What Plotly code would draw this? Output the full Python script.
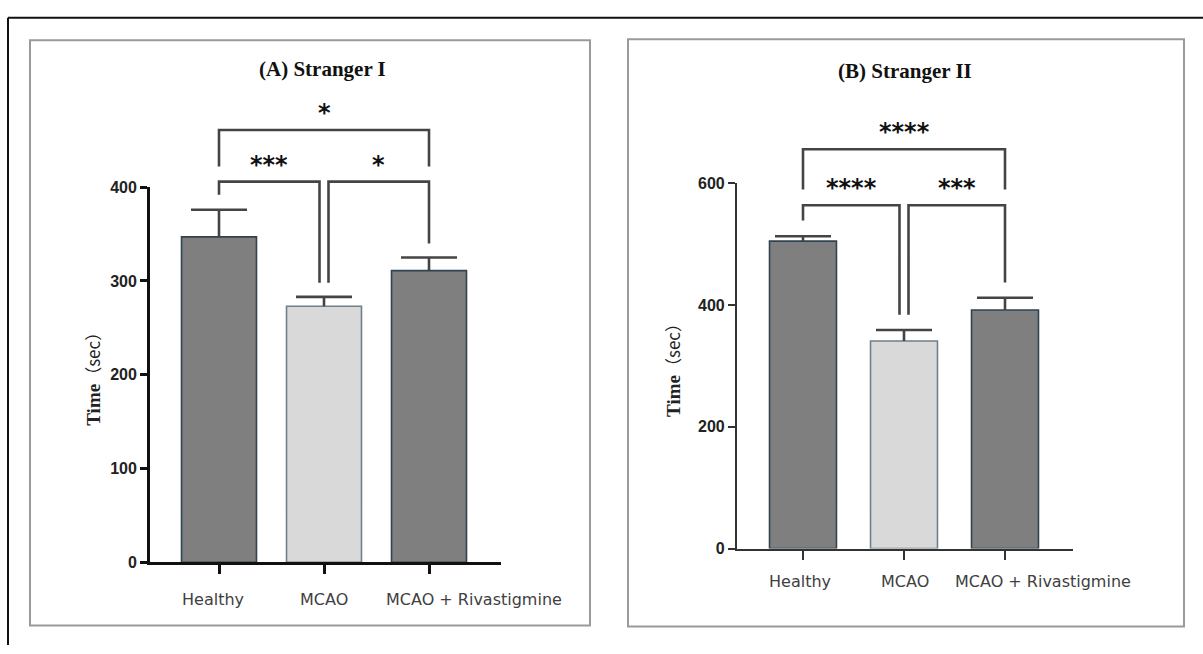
import plotly.graph_objects as go

W, H = 1203, 654

# ---- data -------------------------------------------------------------
groups = ["Healthy", "MCAO", "MCAO + Rivastigmine"]

# (A) Stranger I: mean time and SEM (sec)
mean_a = [347, 273, 311]
sem_a = [29, 10, 14]

# (B) Stranger II: mean time and SEM (sec)
mean_b = [505, 341, 392]
sem_b = [8, 18, 20]

# pairwise comparisons drawn as brackets
pairs = [(0, 1), (1, 2), (0, 2)]
bracket_a = [406, 406, 461]
legs_a = [(392, 298), (298, 340), (422, 422)]
stars_a = ["***", "*", "*"]

bracket_b = [564, 564, 656]
legs_b = [(539, 384), (384, 437), (590, 590)]
stars_b = ["****", "***", "****"]

y_ticks_a = [0, 100, 200, 300, 400]
y_ticks_b = [0, 200, 400, 600]

titles = ["(A) Stranger I", "(B) Stranger II"]

# ---- styling ----------------------------------------------------------
fills = ["#7f7f7f", "#d9d9d9", "#7f7f7f"]
edges = ["#2f4350", "#6f808c", "#2f4350"]
BRACKET = "#444444"
LABEL_GREY = "#404040"


def fx(p):
    return p / W


def fy(p):
    return 1 - p / H


panels = [
    dict(n="", h="3", means=mean_a, sems=sem_a, brackets=bracket_a, legs=legs_a,
         stars=stars_a, ticks=y_ticks_a, xpx=(150, 501), ypx=(569, 184), c0=219,
         step=105, bw=0.714, axis="#111111", aw=2.8, title=titles[0],
         title_xy=(322, 63), box=(30, 33, 590, 634), ylab_x=93, xlab_y=607,
         xlab_shift=[-6, 0, 45]),
    dict(n="2", h="4", means=mean_b, sems=sem_b, brackets=bracket_b, legs=legs_b,
         stars=stars_b, ticks=y_ticks_b, xpx=(737, 1073), ypx=(555, 180), c0=803,
         step=101, bw=0.663, axis="#333333", aw=2.2, title=titles[1],
         title_xy=(905, 65), box=(628, 32, 1184, 635), ylab_x=673, xlab_y=589,
         xlab_shift=[-3, 1, 38]),
]

fig = go.Figure()
layout = dict(
    width=W, height=H, autosize=False,
    margin=dict(l=0, r=0, t=0, b=0),
    paper_bgcolor="white", plot_bgcolor="rgba(0,0,0,0)",
    showlegend=False, shapes=[], annotations=[],
)

# outer frame: top and left edges only, kept inside the canvas
frame = dict(color="#111111", width=2)
layout["shapes"].append(dict(type="line", xref="paper", yref="paper",
                             x0=fx(8), x1=1, y0=fy(10), y1=fy(10), line=frame))
layout["shapes"].append(dict(type="line", xref="paper", yref="paper",
                             x0=fx(8), x1=fx(8), y0=0, y1=fy(10), line=frame))

for p in panels:
    n, h = p["n"], p["h"]
    ymax = p["ticks"][-1]
    xr = [(p["xpx"][0] - p["c0"]) / p["step"], (p["xpx"][1] - p["c0"]) / p["step"]]
    xdom = [fx(p["xpx"][0]), fx(p["xpx"][1])]
    ydom = [fy(p["ypx"][0]), fy(p["ypx"][1])]
    scale = (p["ypx"][0] - p["ypx"][1]) / ymax
    helper_top = (p["ypx"][0] - 15) / scale

    # panel box
    bx0, by0, bx1, by1 = p["box"]
    layout["shapes"].append(dict(type="rect", xref="paper", yref="paper",
                                 x0=fx(bx0), x1=fx(bx1), y0=fy(by1), y1=fy(by0),
                                 line=dict(color="#9a9a9a", width=2), layer="below"))

    # bars
    fig.add_trace(go.Bar(
        x=groups, y=p["means"], width=p["bw"],
        xaxis="x" + n, yaxis="y" + n,
        marker=dict(color=fills, line=dict(color=edges, width=1.6)),
        hoverinfo="skip",
    ))
    # upward SEM: stem from bar top, cap drawn as a horizontal marker
    tops = [m + s for m, s in zip(p["means"], p["sems"])]
    fig.add_trace(go.Scatter(
        x=groups, y=tops, mode="markers", xaxis="x" + n, yaxis="y" + n,
        marker=dict(symbol="line-ew", size=40, color=BRACKET,
                    line=dict(color=BRACKET, width=2.6)),
        error_y=dict(type="data", array=[0] * len(tops), arrayminus=p["sems"],
                     symmetric=False, color=BRACKET, thickness=2.6, width=0),
        hoverinfo="skip", cliponaxis=False,
    ))

    # significance brackets
    off = 4.5 / p["step"]
    adj = [(i, j) for (i, j) in pairs if j - i == 1]
    shared = {k for k in range(len(groups)) if sum(k in q for q in adj) > 1}
    bxs, bys = [], []
    for (i, j), top, (li, lj), lab in zip(pairs, p["brackets"], p["legs"], p["stars"]):
        xl = i + off if (j - i == 1 and i in shared) else i
        xrr = j - off if (j - i == 1 and j in shared) else j
        bxs += [xl, xl, xrr, xrr, None]
        bys += [li, top, top, lj, None]
        layout["annotations"].append(dict(
            x=(xl + xrr) / 2, y=top, xref="x" + h, yref="y" + h,
            text=lab, showarrow=False, yanchor="bottom", yshift=1,
            font=dict(family="DejaVu Sans", size=24, color="#111111", weight="bold"),
        ))
    fig.add_trace(go.Scatter(
        x=bxs, y=bys, mode="lines", xaxis="x" + h, yaxis="y" + h,
        line=dict(color=BRACKET, width=2.6), hoverinfo="skip",
    ))

    # axes
    layout["xaxis" + n] = dict(
        domain=xdom, range=xr, anchor="y" + n, type="category",
        showline=True, linecolor=p["axis"], linewidth=p["aw"],
        ticks="outside", ticklen=9, tickwidth=p["aw"], tickcolor=p["axis"],
        showticklabels=False, showgrid=False, zeroline=False, fixedrange=True,
    )
    layout["yaxis" + n] = dict(
        domain=ydom, range=[0, ymax], anchor="x" + n,
        tickmode="array", tickvals=p["ticks"],
        showline=True, linecolor=p["axis"], linewidth=p["aw"],
        ticks="outside", ticklen=7, tickwidth=p["aw"], tickcolor=p["axis"],
        tickfont=dict(family="Liberation Sans", size=16, color="#222222", weight="bold"),
        showgrid=False, zeroline=False, fixedrange=True,
    )
    layout["xaxis" + h] = dict(domain=xdom, range=xr, anchor="y" + h, visible=False,
                                fixedrange=True)
    layout["yaxis" + h] = dict(domain=[ydom[0], fy(15)], range=[0, helper_top],
                                anchor="x" + h, visible=False, fixedrange=True)

    # category labels
    for k, g in enumerate(groups):
        layout["annotations"].append(dict(
            x=k, y=fy(p["xlab_y"]), xref="x" + n, yref="paper",
            text=g, showarrow=False, yanchor="middle", xshift=p["xlab_shift"][k],
            font=dict(family="DejaVu Sans", size=16, color=LABEL_GREY),
        ))

    # panel title
    tx, ty = p["title_xy"]
    layout["annotations"].append(dict(
        x=fx(tx), y=fy(ty), xref="paper", yref="paper", text="<b>" + p["title"] + "</b>",
        showarrow=False, xanchor="center", yanchor="middle",
        font=dict(family="Liberation Serif", size=21, color="#111111"),
    ))

    # y-axis title
    layout["annotations"].append(dict(
        x=fx(p["ylab_x"]), y=(ydom[0] + ydom[1]) / 2, xref="paper", yref="paper",
        text="<b>Time</b><span style='font-family:Noto Sans CJK SC;font-size:17px'>（sec）</span>",
        textangle=-90, showarrow=False, xanchor="center", yanchor="middle",
        font=dict(family="Liberation Serif", size=19, color="#222222"),
    ))

fig.update_layout(**layout)
fig.write_html("out.html")
